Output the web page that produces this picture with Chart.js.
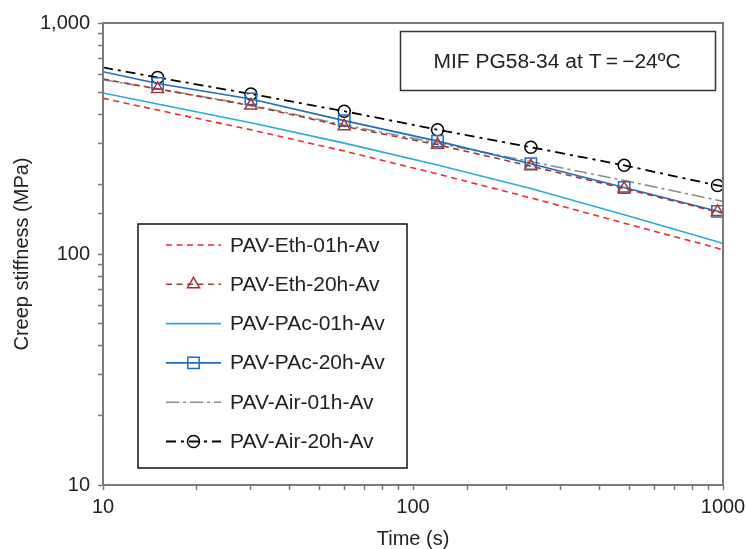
<!DOCTYPE html>
<html>
<head>
<meta charset="utf-8">
<script src="https://cdn.jsdelivr.net/npm/chart.js@4.4.0/dist/chart.umd.min.js"></script>
<style>
html, body { margin: 0; padding: 0; background: #fff; }
#wrap { width: 746px; height: 549px; }
</style>
</head>
<body>
<div id="wrap"><canvas id="creepChart" width="746" height="549"></canvas></div>
<script>
// time (s) and creep stiffness (MPa)
const times = [10, 15, 30, 60, 120, 240, 480, 960, 1000];
const markerTimes = [15, 30, 60, 120, 240, 480, 960];

const ethPav01 = [472, 420, 345, 279, 222, 175, 136, 106, 104];
const ethPav20 = [572, 518, 439, 357, 297, 240, 192, 152, 150];
const pacPav01 = [498, 446, 370, 302, 243, 192, 148, 113, 111];
const pacPav20 = [615, 547, 469, 378, 308, 246, 194, 153, 151];
const airPav01 = [568, 520, 441, 362, 302, 251, 208, 171, 169];
const airPav20 = [642, 581, 493, 415, 345, 290, 242, 198, 196];

const majorTicks = [10, 100, 1000];
const titleText = "MIF PG58-34 at T\u2009=\u2009\u221224\u00baC";

const fontFamily = "'Liberation Sans', Arial, Helvetica, sans-serif";
const textColor = "#222";
const axisColor = "#7a7a7a";

function series(label, values, style) {
    return Object.assign({
        label: label,
        data: times.map((t, i) => ({ x: t, y: values[i] })),
        fill: false,
        tension: 0,
        pointRadius: 0,
        pointHoverRadius: 0,
        backgroundColor: "rgba(0,0,0,0)",
        pointBackgroundColor: "rgba(0,0,0,0)",
    }, style);
}

function markerSize(r) {
    return (c) => (markerTimes.includes(c.raw.x) ? r : 0);
}

const datasets = [
    series("PAV-Eth-01h-Av", ethPav01, {
        borderColor: "#ee2a2d", borderWidth: 1.6, borderDash: [6, 4.5],
    }),
    series("PAV-Eth-20h-Av", ethPav20, {
        borderColor: "#a3383a", borderWidth: 1.6, borderDash: [6, 4.5],
        pointStyle: "triangle", pointRadius: markerSize(7), legendRadius: 7,
        pointBorderColor: "#a3383a", pointBorderWidth: 1.5,
    }),
    series("PAV-PAc-01h-Av", pacPav01, {
        borderColor: "#2ba8e0", borderWidth: 1.6,
    }),
    series("PAV-PAc-20h-Av", pacPav20, {
        borderColor: "#1f6cc0", borderWidth: 1.6,
        pointStyle: "rect", pointRadius: markerSize(8), legendRadius: 8,
        pointBorderColor: "#1f6cc0", pointBorderWidth: 1.5,
    }),
    series("PAV-Air-01h-Av", airPav01, {
        borderColor: "#8c8c8c", borderWidth: 1.6, borderDash: [13, 4, 3, 4],
    }),
    series("PAV-Air-20h-Av", airPav20, {
        borderColor: "#000", borderWidth: 1.8, borderDash: [10, 5, 3, 5],
        pointStyle: "circle", pointRadius: markerSize(6), legendRadius: 6,
        pointBorderColor: "#000", pointBorderWidth: 1.5,
    }),
];

function drawMarker(ctx, style, r, x, y) {
    ctx.beginPath();
    if (style === "triangle") {
        ctx.moveTo(x, y - r);
        ctx.lineTo(x + r * Math.sin(Math.PI / 3), y + r / 2);
        ctx.lineTo(x - r * Math.sin(Math.PI / 3), y + r / 2);
        ctx.closePath();
    } else if (style === "rect") {
        const s = r * Math.SQRT1_2;
        ctx.rect(x - s, y - s, 2 * s, 2 * s);
    } else {
        ctx.arc(x, y, r, 0, Math.PI * 2);
    }
    ctx.stroke();
}

// text a little wider than the font, like the original
function wideText(ctx, text, x, y, sx) {
    ctx.save();
    ctx.translate(x, y);
    ctx.scale(sx, 1);
    ctx.fillText(text, 0, 0);
    ctx.restore();
}

// frame, title box and legend box
const decorations = {
    id: "decorations",
    afterDraw(chart) {
        const ctx = chart.ctx;
        const a = chart.chartArea;
        ctx.save();
        ctx.strokeStyle = axisColor;
        ctx.lineWidth = 2;
        ctx.strokeRect(a.left, a.top, a.right - a.left, a.bottom - a.top);

        // title box
        ctx.strokeStyle = "#333";
        ctx.lineWidth = 1.5;
        ctx.strokeRect(400.5, 31.5, 315, 59);
        ctx.fillStyle = textColor;
        ctx.font = "20px " + fontFamily;
        ctx.textAlign = "center";
        ctx.textBaseline = "middle";
        wideText(ctx, titleText, 557, 62, 1.05);

        // legend
        ctx.fillStyle = "#fff";
        ctx.fillRect(138, 224, 269, 244);
        ctx.strokeStyle = "#111";
        ctx.strokeRect(138, 224, 269, 244);
        ctx.textAlign = "left";
        chart.data.datasets.forEach((ds, i) => {
            const y = 245 + i * 39.3;
            ctx.strokeStyle = ds.borderColor;
            ctx.lineWidth = ds.borderWidth;
            ctx.setLineDash(ds.borderDash || []);
            ctx.beginPath();
            ctx.moveTo(166, y);
            ctx.lineTo(221, y);
            ctx.stroke();
            ctx.setLineDash([]);
            if (ds.pointStyle) {
                ctx.lineWidth = ds.pointBorderWidth;
                ctx.strokeStyle = ds.pointBorderColor;
                drawMarker(ctx, ds.pointStyle, ds.legendRadius, 193.5, y);
            }
            ctx.fillStyle = textColor;
            wideText(ctx, ds.label, 230, y + 1, 1.05);
        });
        ctx.restore();
    },
};

const tickFont = { family: fontFamily, size: 20 };

const config = {
    type: "line",
    data: { datasets: datasets },
    options: {
        responsive: false,
        animation: false,
        events: [],
        layout: { padding: { left: 0, top: 23, right: 23, bottom: 0 } },
        plugins: {
            legend: { display: false },
            tooltip: { enabled: false },
        },
        scales: {
            x: {
                type: "logarithmic",
                position: "bottom",
                min: 10,
                max: 1000,
                afterFit: (scale) => {
                    scale.height = 64;
                    scale.paddingLeft = 0;
                    scale.paddingRight = 0;
                },
                border: { color: axisColor, width: 2 },
                grid: {
                    drawOnChartArea: false,
                    drawTicks: true,
                    tickLength: 5,
                    tickColor: axisColor,
                    tickWidth: 1.5,
                },
                ticks: {
                    autoSkip: false,
                    maxRotation: 0,
                    padding: 5,
                    color: textColor,
                    font: tickFont,
                    callback: (v) => (majorTicks.includes(v) ? String(v) : ""),
                },
                title: {
                    display: true,
                    text: "Time (s)",
                    color: textColor,
                    font: { family: fontFamily, size: 20, lineHeight: 1 },
                    padding: { top: 0, bottom: 0 },
                },
            },
            y: {
                type: "logarithmic",
                position: "left",
                min: 10,
                max: 1000,
                afterFit: (scale) => { scale.width = 103; },
                border: { color: axisColor, width: 2 },
                grid: {
                    drawOnChartArea: false,
                    drawTicks: true,
                    tickLength: 5,
                    tickColor: axisColor,
                    tickWidth: 1.5,
                },
                ticks: {
                    autoSkip: false,
                    padding: 8,
                    color: textColor,
                    font: tickFont,
                    callback: (v) => (majorTicks.includes(v) ? Number(v).toLocaleString("en-US") : ""),
                },
                title: {
                    display: true,
                    text: "Creep stiffness (MPa)",
                    color: textColor,
                    font: { family: fontFamily, size: 20, lineHeight: 1 },
                    padding: { top: 12, bottom: 0 },
                },
            },
        },
    },
    plugins: [decorations],
};

const creepChart = new Chart(document.getElementById("creepChart"), config);
</script>
</body>
</html>
